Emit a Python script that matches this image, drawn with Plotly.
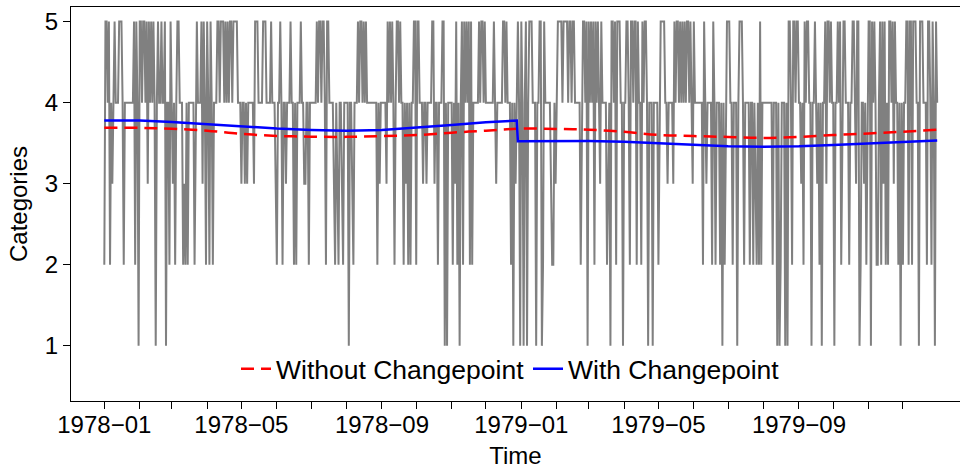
import pandas as pd
import plotly.graph_objects as go

# Daily ordinal category (1-5), 1978-01-01 .. 1979-12-31, written in 10-day blocks
category_blocks = [
    "2554524345", "4445554244", "4444445254", "1554554535", "4545414544",
    "5445144254", "3424554442", "3242444442", "4544453542", "5425424445",
    "5455545454", "5545555444", "3443434444", "4355544445", "5544445444",
    "3244542443", "4445442424", "4454433442", "4444445455", "4554255444",
    "4324324432", "4444144324", "4454554545", "4444444442", "4344444354",
    "5454245545", "4424342424", "4552554443", "4434444553", "4424445514",
    "1444424352", "4145254545", "2524444454", "5545444444", "4543444445",
    "5454442414", "3454154145", "1455544414", "4551254444", "4322434555",
    "5455554554", "5544444245", "5451545452", "5454354444", "2341554525",
    "5544144554", "2554552544", "2545541444", "1444424555", "5443444435",
    "4554545454", "5545435444", "4444254344", "4425424442", "4142455544",
    "2444145554", "2444424424", "3242524444", "4444424441", "4124441415",
    "5425545544", "3425455441", "4454342414", "4535545441", "4454524554",
    "4424455435", "5124434245", "5154542245", "2535242554", "5354424142",
    "4455255255", "5441555444", "2554254154",
]
categories = [int(c) for c in "".join(category_blocks)]
dates = pd.date_range("1978-01-01", periods=len(categories), freq="D")

# Fitted mean, model without a changepoint (day offset from 1978-01-01, value)
fit_days = [0, 31, 59, 90, 120, 151, 181, 212, 243, 273, 304, 334, 365,
            396, 424, 455, 485, 516, 546, 577, 608, 638, 669, 699, 729]
fit_no_cp = [3.692, 3.690, 3.678, 3.655, 3.615, 3.590, 3.581, 3.578, 3.588,
             3.600, 3.630, 3.655, 3.680, 3.675, 3.667, 3.640, 3.603, 3.588,
             3.577, 3.565, 3.578, 3.600, 3.620, 3.642, 3.665]

# Fitted mean, model with a changepoint at the end of 1978
cp_days = [0, 31, 59, 90, 120, 151, 181, 212, 243, 273, 304, 334, 361,
           362, 396, 424, 455, 485, 516, 546, 577, 608, 638, 669, 699, 729]
fit_cp = [3.779, 3.779, 3.763, 3.736, 3.707, 3.681, 3.664, 3.655, 3.664,
          3.691, 3.726, 3.757, 3.779,
          3.524, 3.526, 3.526, 3.518, 3.500, 3.478, 3.462, 3.456, 3.462,
          3.478, 3.496, 3.515, 3.532]

month_ticks = pd.date_range("1978-01-01", "1979-12-01", freq="MS")
tick_text = [d.strftime("%Y\u2212%m") if i % 4 == 0 else "" for i, d in enumerate(month_ticks)]

origin = dates[0]
fit_dates = [origin + pd.Timedelta(days=d) for d in fit_days]
cp_dates = [origin + pd.Timedelta(days=d) for d in cp_days]

FONT = "Liberation Sans, Arial, sans-serif"

fig = go.Figure()
fig.add_trace(go.Scatter(
    x=dates, y=categories, mode="lines",
    line=dict(color="#808080", width=2),
    showlegend=False, hoverinfo="skip",
))
fig.add_trace(go.Scatter(
    x=fit_dates, y=fit_no_cp, mode="lines", name="Without Changepoint",
    line=dict(color="#ff0000", width=2.5, dash="13px,7px", shape="spline"),
    legend="legend",
))
fig.add_trace(go.Scatter(
    x=cp_dates, y=fit_cp, mode="lines", name="With Changepoint",
    line=dict(color="#0000ff", width=2.5),
    legend="legend2",
))

# x range padded by 4% of the data span on the left; the right edge runs past the page
span = dates[-1] - dates[0]
x_start = dates[0] - 0.04 * span
x_full_end = dates[-1] + 0.04 * span
x_end = x_start + (x_full_end - x_start) * (889 / 899.5)

legend_common = dict(
    orientation="h", yanchor="middle", xanchor="left",
    font=dict(family=FONT, size=26.5, color="black"),
    bgcolor="rgba(0,0,0,0)", itemwidth=30, tracegroupgap=0,
)

fig.update_layout(
    width=960, height=469,
    margin=dict(l=71, r=0, t=7, b=68),
    paper_bgcolor="white", plot_bgcolor="white",
    font=dict(family=FONT, size=24, color="black"),
    xaxis=dict(
        type="date", range=[x_start, x_end],
        tickvals=month_ticks, ticktext=tick_text,
        showgrid=False, zeroline=False,
        showline=True, mirror=True, linecolor="black", linewidth=1,
        ticks="outside", ticklen=7, tickcolor="black", tickwidth=1,
        tickfont=dict(size=24), ticklabelstandoff=-5,
        title=dict(text="Time", font=dict(size=24), standoff=12),
    ),
    yaxis=dict(
        range=[0.32, 5.18], tickvals=[1, 2, 3, 4, 5],
        showgrid=False, zeroline=False,
        showline=True, mirror=False, linecolor="black", linewidth=1,
        ticks="outside", ticklen=7, tickcolor="black", tickwidth=1,
        tickfont=dict(size=24),
        title=dict(text="Categories", font=dict(size=24), standoff=10),
    ),
    legend=dict(x=(236 - 71) / 889, y=(401 - 369) / 394, **legend_common),
    legend2=dict(x=(528 - 71) / 889, y=(401 - 369) / 394, **legend_common),
)

fig.write_html("out.html")
